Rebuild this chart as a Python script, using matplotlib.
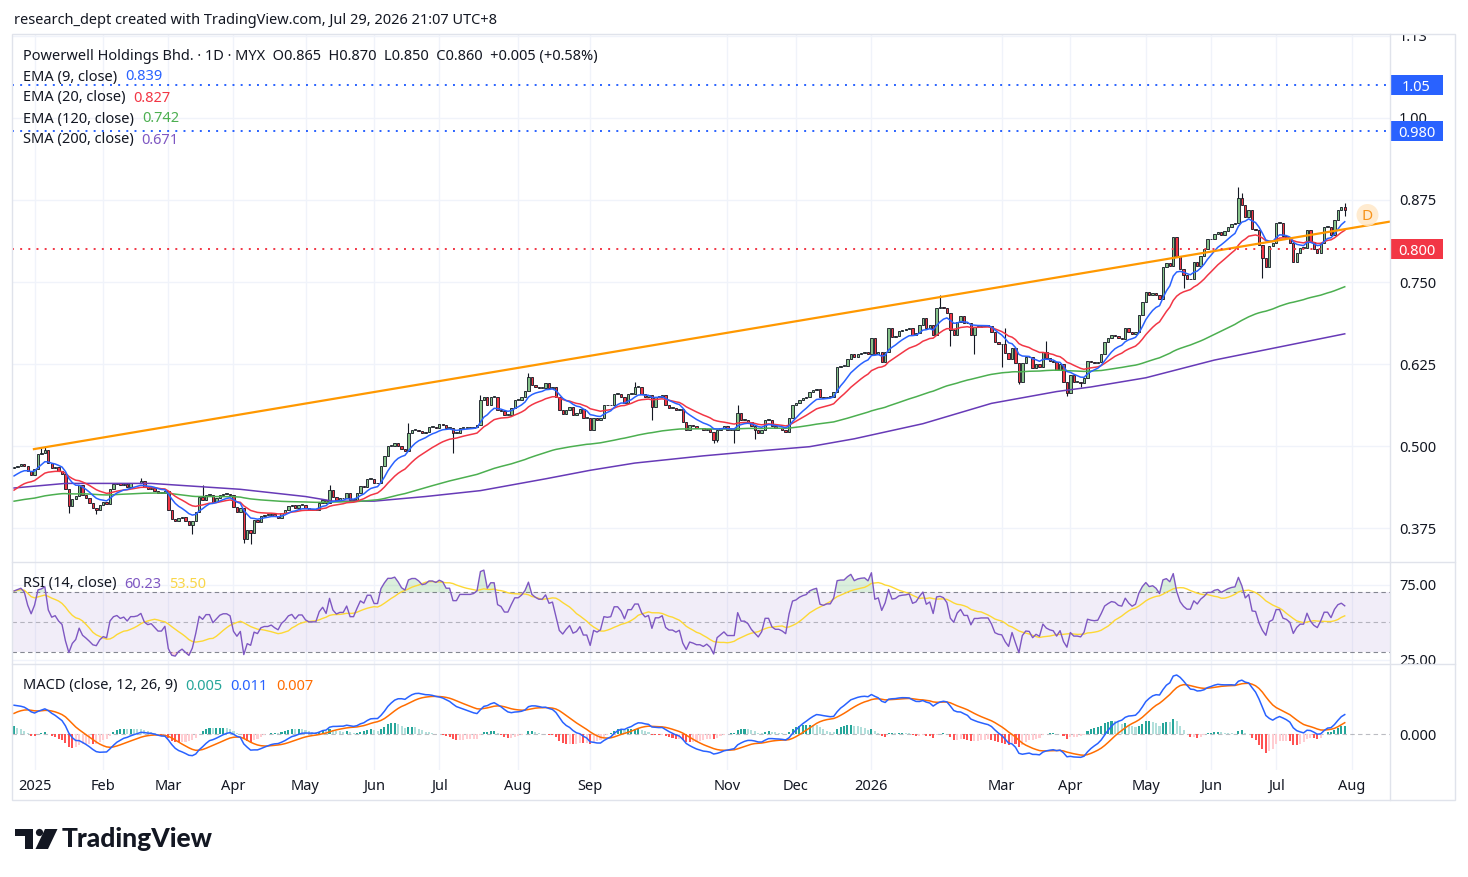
import numpy as np
import pandas as pd
import matplotlib
matplotlib.use("Agg")
import matplotlib.pyplot as plt
from matplotlib.patches import Rectangle, Circle, Polygon
from matplotlib.transforms import Bbox, TransformedBbox, blended_transform_factory, offset_copy

plt.rcParams['font.family'] = ['Noto Sans', 'DejaVu Sans']

# ---------------- data ----------------
# daily closes, Powerwell Holdings (MYX), late Dec 2024 .. 29 Jul 2026
closes = [
    0.468, 0.470, 0.472, 0.470, 0.462, 0.456, 0.465, 0.488, 0.490, 0.494,
    0.474, 0.466, 0.468, 0.462, 0.458, 0.434, 0.408, 0.419, 0.424, 0.440,
    0.426, 0.420, 0.413, 0.405, 0.403, 0.410, 0.414, 0.412, 0.435, 0.442,
    0.444, 0.440, 0.442, 0.437, 0.443, 0.443, 0.444, 0.447, 0.438, 0.435,
    0.436, 0.432, 0.428, 0.428, 0.432, 0.402, 0.388, 0.386, 0.390, 0.392,
    0.386, 0.380, 0.386, 0.400, 0.422, 0.418, 0.425, 0.425, 0.415, 0.420,
    0.425, 0.427, 0.427, 0.425, 0.407, 0.400, 0.405, 0.358, 0.372, 0.368,
    0.387, 0.384, 0.393, 0.395, 0.395, 0.397, 0.393, 0.390, 0.398, 0.402,
    0.408, 0.410, 0.405, 0.410, 0.410, 0.405, 0.403, 0.403, 0.403, 0.413,
    0.418, 0.413, 0.433, 0.422, 0.418, 0.420, 0.420, 0.428, 0.418, 0.418,
    0.428, 0.439, 0.437, 0.450, 0.450, 0.443, 0.443, 0.470, 0.485, 0.500,
    0.500, 0.504, 0.500, 0.495, 0.493, 0.520, 0.525, 0.525, 0.523, 0.520,
    0.522, 0.529, 0.529, 0.528, 0.533, 0.532, 0.528, 0.528, 0.520, 0.520,
    0.528, 0.528, 0.528, 0.528, 0.529, 0.532, 0.570, 0.575, 0.562, 0.575,
    0.575, 0.555, 0.553, 0.547, 0.547, 0.558, 0.570, 0.570, 0.575, 0.584,
    0.605, 0.593, 0.590, 0.588, 0.588, 0.596, 0.588, 0.590, 0.575, 0.555,
    0.549, 0.555, 0.560, 0.548, 0.550, 0.556, 0.543, 0.543, 0.524, 0.543,
    0.540, 0.543, 0.563, 0.562, 0.563, 0.580, 0.580, 0.575, 0.565, 0.580,
    0.580, 0.590, 0.590, 0.580, 0.575, 0.577, 0.560, 0.575, 0.575, 0.578,
    0.562, 0.558, 0.558, 0.555, 0.557, 0.537, 0.524, 0.532, 0.530, 0.527,
    0.527, 0.524, 0.526, 0.521, 0.509, 0.524, 0.527, 0.530, 0.525, 0.525,
    0.525, 0.550, 0.540, 0.540, 0.537, 0.530, 0.525, 0.520, 0.525, 0.540,
    0.540, 0.530, 0.527, 0.527, 0.525, 0.522, 0.543, 0.563, 0.565, 0.570,
    0.573, 0.575, 0.582, 0.585, 0.587, 0.574, 0.573, 0.575, 0.575, 0.583,
    0.620, 0.622, 0.622, 0.632, 0.640, 0.635, 0.640, 0.642, 0.643, 0.641,
    0.665, 0.640, 0.643, 0.628, 0.643, 0.680, 0.666, 0.668, 0.675, 0.677,
    0.678, 0.680, 0.669, 0.672, 0.684, 0.695, 0.680, 0.685, 0.669, 0.710,
    0.712, 0.710, 0.703, 0.677, 0.669, 0.689, 0.698, 0.687, 0.687, 0.669,
    0.682, 0.682, 0.683, 0.683, 0.683, 0.674, 0.659, 0.656, 0.655, 0.642,
    0.632, 0.650, 0.627, 0.598, 0.627, 0.636, 0.635, 0.619, 0.625, 0.620,
    0.643, 0.634, 0.630, 0.628, 0.616, 0.625, 0.598, 0.581, 0.608, 0.598,
    0.598, 0.596, 0.604, 0.630, 0.628, 0.627, 0.628, 0.641, 0.658, 0.664,
    0.669, 0.668, 0.664, 0.663, 0.680, 0.674, 0.670, 0.674, 0.700, 0.720,
    0.735, 0.730, 0.733, 0.730, 0.724, 0.773, 0.779, 0.775, 0.819, 0.790,
    0.770, 0.760, 0.754, 0.754, 0.780, 0.774, 0.790, 0.800, 0.815, 0.815,
    0.823, 0.826, 0.822, 0.828, 0.834, 0.838, 0.840, 0.878, 0.867, 0.849,
    0.860, 0.831, 0.830, 0.806, 0.787, 0.773, 0.805, 0.810, 0.840, 0.840,
    0.820, 0.817, 0.810, 0.780, 0.794, 0.802, 0.802, 0.830, 0.811, 0.800,
    0.794, 0.810, 0.834, 0.834, 0.822, 0.845, 0.860, 0.865, 0.860,
]
first_open = 0.466

# visible wicks beyond the bodies (bar index -> price)
wick_high = {8: 0.497, 9: 0.498, 37: 0.452, 55: 0.440, 92: 0.440, 115: 0.535,
             136: 0.578, 150: 0.612, 181: 0.598, 211: 0.562, 270: 0.730,
             289: 0.680, 301: 0.660, 357: 0.895, 358: 0.885, 388: 0.870}
wick_low = {16: 0.398, 24: 0.396, 52: 0.366, 67: 0.352, 69: 0.350, 128: 0.489,
            186: 0.540, 204: 0.505, 205: 0.506, 210: 0.505, 216: 0.510,
            273: 0.652, 280: 0.640, 288: 0.620, 293: 0.594, 307: 0.576,
            311: 0.590, 341: 0.741, 364: 0.756, 388: 0.850}

sma200_idx = [0, 15, 40, 66, 85, 93, 105, 120, 136, 155, 168, 181, 201, 216,
              232, 245, 265, 285, 304, 314, 330, 350, 369, 388]
sma200_val = [0.436, 0.443, 0.443, 0.434, 0.423, 0.416, 0.416, 0.423, 0.432,
              0.450, 0.463, 0.474, 0.485, 0.492, 0.499, 0.511, 0.534, 0.565,
              0.583, 0.590, 0.604, 0.631, 0.651, 0.671]

# starting values of the running averages at the first bar
ema9_seed, ema20_seed, ema120_seed = 0.451, 0.429, 0.415
ema12_seed, ema26_seed, signal_seed = 0.455, 0.436, 0.012
rsi_gain_seed, rsi_loss_seed = 0.0035, 0.0015

# trend line anchors (bar, price), extended to the right
trend_pts = [(5.5, 0.495), (270, 0.727)]
hlines = [1.05, 0.98, 0.80]
hline_labels = ['1.05', '0.980', '0.800']

month_pos = [6, 26, 45, 64, 85, 105, 124, 147, 168, 208, 228, 250, 288, 308,
             330, 349, 368, 390]
month_labels = ['2025', 'Feb', 'Mar', 'Apr', 'May', 'Jun', 'Jul', 'Aug', 'Sep',
                'Nov', 'Dec', '2026', 'Mar', 'Apr', 'May', 'Jun', 'Jul', 'Aug']

price_ticks = [0.375, 0.5, 0.625, 0.75, 0.875, 1.0]
price_tick_labels = ['0.375', '0.500', '0.625', '0.750', '0.875', '1.00']
price_tick_bold = [False, True, False, True, False, True]

# ---------------- indicators ----------------
def ema(vals, span, seed):
    a = 2.0 / (span + 1)
    out, e = [], seed
    for v in vals:
        e += a * (v - e)
        out.append(e)
    return np.array(out)

c = np.array(closes)
n = len(c)
x = np.arange(n)
o = np.concatenate([[first_open], c[:-1]])

ema9 = ema(c, 9, ema9_seed)
ema20 = ema(c, 20, ema20_seed)
ema120 = ema(c, 120, ema120_seed)

delta = c - o
ag, al = rsi_gain_seed, rsi_loss_seed
rsi = []
for d in delta:
    ag = (ag * 13 + max(d, 0)) / 14
    al = (al * 13 + max(-d, 0)) / 14
    rsi.append(100 - 100 / (1 + ag / al))
rsi = np.array(rsi)
rsi_ma = pd.Series(rsi).rolling(14, min_periods=1).mean().values

macd = ema(c, 12, ema12_seed) - ema(c, 26, ema26_seed)
signal = ema(macd, 9, signal_seed)
hist = macd - signal
prev = np.concatenate([[hist[0]], hist[:-1]])
hist_col = np.where(hist >= 0,
                    np.where(hist >= prev, '#26a69a', '#b2dfdb'),
                    np.where(hist < prev, '#ff5252', '#ffcdd2'))

# ---------------- layout ----------------
W, H = 1468, 877
TXT = '#131722'
GRID = '#f0f3fa'
SEP = '#e0e3eb'
FS = 10.5
DY = 2  # text sits a touch lower than matplotlib's centre
L, R = 12, 1390
fig = plt.figure(figsize=(W / 100, H / 100), dpi=100)
fig.patch.set_facecolor('white')

def axes_px(top, bottom):
    return fig.add_axes([L / W, 1 - bottom / H, (R - L) / W, (bottom - top) / H])

def down(tr):
    return offset_copy(tr, fig=fig, x=0, y=-DY, units='dots')

ax = axes_px(35, 562)
ax_r = axes_px(562, 664)
ax_m = axes_px(664, 770)

xmin, xmax = -0.58, 401.2
for a in (ax, ax_r, ax_m):
    a.set_xlim(xmin, xmax)
    for s in a.spines.values():
        s.set_visible(False)
    a.tick_params(length=0, labelbottom=False, labelleft=False)
    a.set_xticks(month_pos)
    a.grid(axis='x', color=GRID, lw=1)
    a.set_axisbelow(True)

# price pane
ax.set_ylim(0.3232, 1.1265)
ax.set_yticks(price_ticks + [1.125])
ax.grid(axis='y', color=GRID, lw=1)

hi = np.maximum(o, c)
lo = np.minimum(o, c)
for i, v in wick_high.items():
    hi[i] = max(hi[i], v)
for i, v in wick_low.items():
    lo[i] = min(lo[i], v)
up = c >= o
ax.vlines(x, lo, hi, color=TXT, lw=0.8, zorder=2)
ax.bar(x, np.maximum(np.abs(c - o), 0.0012), bottom=np.minimum(o, c), width=0.7,
       color=np.where(up, '#86c38a', '#f23645'), edgecolor=TXT, linewidth=0.6, zorder=3)

ax.plot(sma200_idx, sma200_val, color='#673ab7', lw=1.1, zorder=4)
ax.plot(x, ema120, color='#4caf50', lw=1.1, zorder=4)
ax.plot(x, ema20, color='#f23645', lw=1.1, zorder=4)
ax.plot(x, ema9, color='#2962ff', lw=1.1, zorder=4)

(tx0, tp0), (tx1, tp1) = trend_pts
slope = (tp1 - tp0) / (tx1 - tx0)
ax.plot([tx0, xmax], [tp0, tp0 + slope * (xmax - tx0)], color='#ff9800', lw=1.6,
        solid_capstyle='butt', zorder=5)

for lvl, col in zip(hlines, ['#2962ff', '#2962ff', '#f23645']):
    ax.axhline(lvl, color=col, lw=1.4, ls=(0, (1, 3.2)), zorder=5)

# overlay in pixel coordinates for frame, legends and logo
ov = fig.add_axes([0, 0, 1, 1], zorder=10)
ov.set_xlim(0, W)
ov.set_ylim(H, 0)
ov.axis('off')
ov.patch.set_visible(False)

# "D" badge at the end of the trend line
ov.add_patch(Circle((1367.5, 215), 11, facecolor='#ffe8c8', edgecolor='none', alpha=0.85))
ov.text(1367.5, 216.5, 'D', color='#f7931a', fontsize=11, ha='center', va='center')

# right price scale
ytr = down(ax.get_yaxis_transform())
lab_x = (1399 - L) / (R - L)
for v, s, b in zip(price_ticks, price_tick_labels, price_tick_bold):
    ax.text(lab_x, v, s, transform=ytr, ha='left', va='center', fontsize=FS,
            color=TXT, fontweight='bold' if b else 'normal', clip_on=False)
t113 = ax.text(lab_x, 1.125, '1.13', transform=ytr, ha='left', va='center',
               fontsize=FS, color=TXT)
t113.set_clip_box(TransformedBbox(Bbox([[R / W, 0], [1, 1 - 35 / H]]), fig.transFigure))
t113.set_clip_on(True)

box_tr = blended_transform_factory(fig.transFigure, ax.transData)
dh = 10 * (1.1265 - 0.3232) / 527
for lvl, s, col in zip(hlines, hline_labels, ['#2962ff', '#2962ff', '#f23645']):
    ax.add_patch(Rectangle((R / W, lvl - dh), 53 / W, 2 * dh, transform=box_tr,
                           facecolor=col, edgecolor='none', clip_on=False, zorder=6))
    ax.text(1416.5 / W, lvl, s, transform=down(box_tr), ha='center', va='center',
            color='white', fontsize=FS, clip_on=False, zorder=7)

# RSI pane
ax_r.set_ylim(22.0, 90.3)
ax_r.set_yticks([25, 75])
ax_r.grid(axis='y', color=GRID, lw=1)
ax_r.axhspan(30, 70, color='#7e57c2', alpha=0.1, lw=0, zorder=1)
for lvl, al_ in [(70, 0.9), (50, 0.5), (30, 0.9)]:
    ax_r.axhline(lvl, color='#787b86', lw=0.8, ls=(0, (4, 3)), alpha=al_, zorder=2)
ax_r.fill_between(x, 70, rsi, where=rsi > 70, interpolate=True, color='#4caf50',
                  alpha=0.2, lw=0, zorder=2)
ax_r.fill_between(x, 30, rsi, where=rsi < 30, interpolate=True, color='#f23645',
                  alpha=0.2, lw=0, zorder=2)
ax_r.plot(x, rsi_ma, color='#fdd835', lw=1.0, zorder=3)
ax_r.plot(x, rsi, color='#7e57c2', lw=1.0, zorder=4)
ytr_r = down(ax_r.get_yaxis_transform())
for v in (75, 25):
    ax_r.text(lab_x, v, '%.2f' % v, transform=ytr_r, ha='left', va='center',
              fontsize=FS, color=TXT, clip_on=False)

# MACD pane
k = macd.max() / 59.0
ax_m.set_ylim(-36 * k, 70 * k)
ax_m.axhline(0, color='#787b86', lw=0.8, ls=(0, (4, 3)), alpha=0.5, zorder=1)
ax_m.bar(x, hist, width=0.6, color=hist_col, zorder=2)
ax_m.plot(x, signal, color='#ff6d00', lw=1.1, zorder=3)
ax_m.plot(x, macd, color='#2962ff', lw=1.1, zorder=4)
ax_m.text(lab_x, 0, '0.000', transform=down(ax_m.get_yaxis_transform()), ha='left',
          va='center', fontsize=FS, color=TXT, clip_on=False)

# time axis
xtr = down(ax_m.get_xaxis_transform())
for p, s in zip(month_pos, month_labels):
    ax_m.text(p, -(784 - 770) / 106, s, transform=xtr, ha='center', va='center',
              fontsize=FS, color=TXT, clip_on=False,
              fontweight='bold' if s.isdigit() else 'normal')

# frame and pane separators
ov.add_patch(Rectangle((12, 34), 1443, 766, fill=False, edgecolor=SEP, lw=1))
for yy in (562, 664):
    ov.plot([12, 1455], [yy, yy], color=SEP, lw=1)
ov.plot([R, R], [34, 800], color=SEP, lw=1)

# legends
renderer = fig.canvas.get_renderer()

def fit_width(t, px):
    w = t.get_window_extent(renderer).width
    t.set_fontsize(t.get_fontsize() * px / w)

def legend_row(y, parts, x0=23, gap=8, fs=FS):
    xx = x0
    for s, col in parts:
        t = ov.text(xx, y + DY, s, color=col, fontsize=fs, ha='left', va='center')
        bb = t.get_window_extent(renderer)
        xx += bb.width + gap

hdr = ov.text(14, 19 + DY, 'research_dept created with TradingView.com, Jul 29, 2026 21:07 UTC+8',
              color=TXT, fontsize=FS, ha='left', va='center')
fit_width(hdr, 484)
top = ov.text(23, 54 + DY, 'Powerwell Holdings Bhd. \u00b7 1D \u00b7 MYX  O0.865  H0.870  L0.850  C0.860  +0.005 (+0.58%)',
              color=TXT, fontsize=FS, ha='left', va='center')
fit_width(top, 575)
legend_row(75, [('EMA (9, close)', TXT), ('0.839', '#2962ff')])
legend_row(96, [('EMA (20, close)', TXT), ('0.827', '#f23645')])
legend_row(117, [('EMA (120, close)', TXT), ('0.742', '#4caf50')])
legend_row(138, [('SMA (200, close)', TXT), ('0.671', '#7e57c2')])
legend_row(582, [('RSI (14, close)', TXT), ('60.23', '#7e57c2'), ('53.50', '#f9d648')])
legend_row(684, [('MACD (close, 12, 26, 9)', TXT), ('0.005', '#26a69a'),
                 ('0.011', '#2962ff'), ('0.007', '#ff6d00')])

# TradingView mark
ov.add_patch(Polygon([(15, 829), (33, 829), (33, 849), (25, 849), (25, 836), (15, 836)],
                     closed=True, facecolor=TXT, edgecolor='none'))
ov.add_patch(Circle((39.5, 832.5), 3.6, facecolor=TXT, edgecolor='none'))
ov.add_patch(Polygon([(45, 829), (57.5, 829), (48, 849), (35.5, 849)],
                     closed=True, facecolor=TXT, edgecolor='none'))
wm = ov.text(62, 839, 'TradingView', color=TXT, fontsize=19, fontweight='black',
             family=['Lato', 'Noto Sans', 'DejaVu Sans'], ha='left', va='center')
fit_width(wm, 151)

fig.savefig('out.png', dpi=100, facecolor='white')
